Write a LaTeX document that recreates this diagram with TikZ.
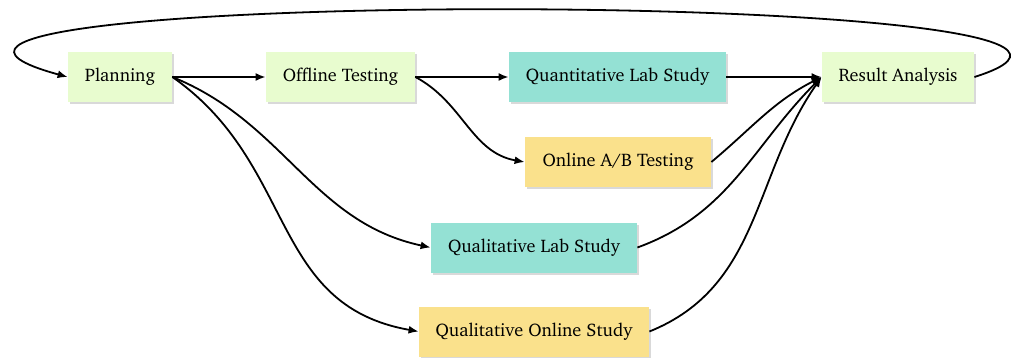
\documentclass[tikz,border=0pt]{standalone}
\usepackage[T1]{fontenc}
\usepackage{charter}
\usetikzlibrary{arrows.meta,shadows}
\definecolor{plangreen}{RGB}{232,252,207}
\definecolor{labteal}{RGB}{148,225,212}
\definecolor{onlineyellow}{RGB}{250,225,140}
\begin{document}
\begin{tikzpicture}[x=0.5pt,y=-0.5pt,
  stage/.style={rectangle, minimum height=25pt, inner xsep=0pt,
    font=\fontsize{9.1}{11}\selectfont,
    drop shadow={shadow xshift=1.2pt,shadow yshift=-1.2pt,opacity=0.3}},
  flow/.style={-{Latex[length=5pt,width=4pt]}, line width=0.9pt}]
\useasboundingbox (0,0) rectangle (1016,358);
% stages of the evaluation process
\node[stage,fill=plangreen,minimum width=52pt]      (plan)   at (120,77)    {Planning};
\node[stage,fill=plangreen,minimum width=74.5pt]    (offl)   at (340.5,77)  {Offline Testing};
\node[stage,fill=labteal,minimum width=108.5pt]     (quant)  at (617.5,77)  {Quantitative Lab Study};
\node[stage,fill=onlineyellow,minimum width=93pt]   (ab)     at (618,162)   {Online A/B Testing};
\node[stage,fill=labteal,minimum width=103pt]       (qlab)   at (534,247.5) {Qualitative Lab Study};
\node[stage,fill=onlineyellow,minimum width=115pt]  (qonl)   at (534,331.5) {Qualitative Online Study};
\node[stage,fill=plangreen,minimum width=76pt]      (result) at (898,77)    {Result Analysis};
% transitions
\draw[flow] (plan) -- (offl);
\draw[flow] (offl) -- (quant);
\draw[flow] (quant) -- (result);
\draw[flow] (offl.east) to[out=-28,in=170] (ab.west);
\draw[flow] (plan.east) to[out=-22,in=168] (qlab.west);
\draw[flow] (plan.east) to[out=-35,in=170,looseness=1.1] (qonl.west);
\draw[flow] (ab.east) to[out=40,in=207] (result.west);
\draw[flow] (qlab.east) to[out=20,in=225] (result.west);
\draw[flow] (qonl.east) to[out=22,in=235] (result.west);
% feedback loop back to planning
\draw[flow] (result.east) .. controls +(285,-90) and +(-330,-90) .. (plan.west);
\end{tikzpicture}
\end{document}
